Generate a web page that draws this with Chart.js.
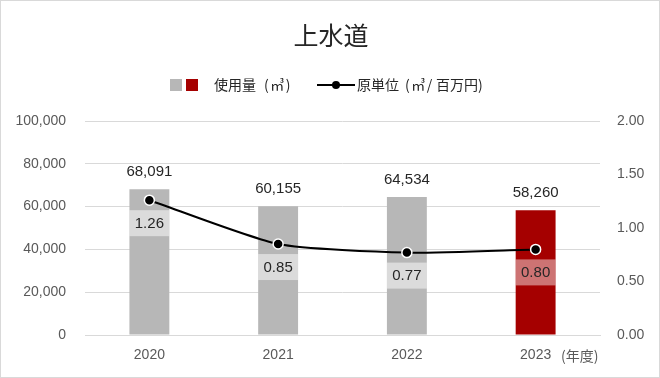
<!DOCTYPE html>
<html>
<head>
<meta charset="utf-8">
<script src="https://cdn.jsdelivr.net/npm/chart.js@4"></script>
<style>
  html, body { margin: 0; padding: 0; background: #fff; }
  #wrap { width: 660px; height: 378px; position: relative; }
</style>
</head>
<body>
<div id="wrap"><canvas id="chart" width="660" height="378"></canvas></div>
<script>
var years = ['2020', '2021', '2022', '2023'];
var usage = [68091, 60155, 64534, 58260];
var intensity = [1.26, 0.85, 0.77, 0.80];
var barColors = ['#b7b7b7', '#b7b7b7', '#b7b7b7', '#a50000'];
var labelBoxColors = ['rgba(255,255,255,0.5)', 'rgba(255,255,255,0.5)', 'rgba(255,255,255,0.5)', 'rgba(255,255,255,0.45)'];

var FONT = '"Liberation Sans", "Noto Sans CJK JP", sans-serif';
var CJK = '"Noto Sans CJK JP", "Liberation Sans", sans-serif';

// title, legend, labels, border drawn by hand
var extras = {
  id: 'extras',
  afterDatasetsDraw: function (chart) {
    var c = chart.ctx;
    var bars = chart.getDatasetMeta(1).data;
    var pts = chart.getDatasetMeta(0).data;
    c.save();
    c.textAlign = 'center';
    c.textBaseline = 'middle';
    // bar values
    c.font = '15px ' + FONT;
    c.fillStyle = '#262626';
    bars.forEach(function (b, i) {
      c.fillText(usage[i].toLocaleString('en-US'), b.x, b.y - 17);
    });
    // intensity boxes
    pts.forEach(function (p, i) {
      var b = bars[i];
      var w = b.width;
      c.fillStyle = labelBoxColors[i];
      c.fillRect(b.x - w / 2, p.y + 10, w, 26);
      c.fillStyle = '#262626';
      c.fillText(intensity[i].toFixed(2), b.x, p.y + 23.5);
    });
    c.restore();
  },
  afterDraw: function (chart) {
    var c = chart.ctx;
    c.save();
    // border
    c.strokeStyle = '#d9d9d9';
    c.lineWidth = 1;
    c.strokeRect(0.5, 0.5, 659, 377);
    // title
    c.fillStyle = '#262626';
    c.textAlign = 'center';
    c.textBaseline = 'middle';
    c.font = '25px ' + CJK;
    c.fillText('上水道', 331, 35);
    // legend
    c.fillStyle = barColors[0];
    c.fillRect(170, 79, 12, 12);
    c.fillStyle = barColors[3];
    c.fillRect(186, 79, 12, 12);
    c.fillStyle = '#262626';
    c.textAlign = 'left';
    c.font = '14px ' + CJK;
    c.fillText('使用量', 214, 85);
    c.fillText('原単位', 357, 85);
    c.fillText('百万円)', 436, 85);
    c.letterSpacing = '1.5px';
    c.fillText('(㎥)', 264, 85);
    c.fillText('(㎥/', 405, 85);
    c.letterSpacing = '0px';
    c.strokeStyle = '#000';
    c.lineWidth = 2;
    c.beginPath();
    c.moveTo(317, 85);
    c.lineTo(355, 85);
    c.stroke();
    c.beginPath();
    c.arc(336, 85, 4, 0, Math.PI * 2);
    c.fillStyle = '#000';
    c.fill();
    // unit on x axis
    c.fillStyle = '#595959';
    c.font = '14px ' + CJK;
    c.fillText('(年度)', 561, 356);
    c.restore();
  }
};

new Chart(document.getElementById('chart'), {
  data: {
    labels: years,
    datasets: [{
      type: 'line',
      data: intensity,
      yAxisID: 'y2',
      borderColor: '#000',
      borderWidth: 2,
      tension: 0.2,
      pointRadius: 5,
      pointBackgroundColor: '#000',
      pointBorderColor: '#fff',
      pointBorderWidth: 1.5,
      order: 0
    }, {
      type: 'bar',
      data: usage,
      yAxisID: 'y',
      backgroundColor: barColors,
      categoryPercentage: 1,
      barPercentage: 0.31,
      order: 1
    }]
  },
  plugins: [extras],
  options: {
    responsive: false,
    animation: false,
    layout: { padding: { top: 121, bottom: 0, left: 0, right: 0 } },
    plugins: {
      legend: { display: false },
      title: { display: false },
      tooltip: { enabled: false }
    },
    scales: {
      x: {
        grid: { display: false, drawTicks: false },
        border: { color: '#d9d9d9' },
        ticks: { color: '#595959', font: { size: 14, family: FONT }, padding: 12 },
        afterFit: function (a) { a.height = 43; }
      },
      y: {
        position: 'left',
        min: 0, max: 100000,
        ticks: {
          stepSize: 20000, color: '#595959', padding: 19,
          font: { size: 14, family: FONT },
          callback: function (v) { return v.toLocaleString('en-US'); }
        },
        grid: { color: '#d9d9d9', drawTicks: false },
        border: { display: false },
        afterFit: function (a) { a.width = 85; }
      },
      y2: {
        position: 'right',
        min: 0, max: 2,
        ticks: {
          stepSize: 0.5, color: '#595959', padding: 17,
          font: { size: 14, family: FONT },
          callback: function (v) { return v.toFixed(2); }
        },
        grid: { display: false, drawTicks: false },
        border: { display: false },
        afterFit: function (a) { a.width = 60; }
      }
    }
  }
});
</script>
</body>
</html>
